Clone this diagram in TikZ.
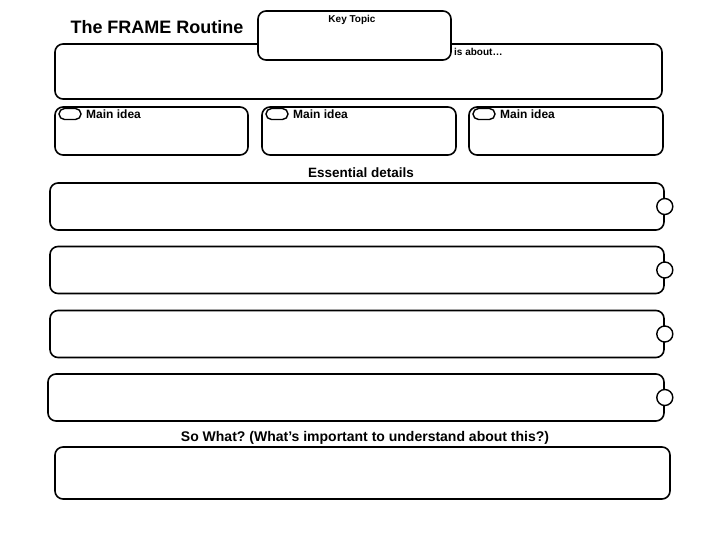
\documentclass[tikz,border=0pt]{standalone}
\usepackage{fontspec}
\setmainfont{Liberation Sans}
\usepackage{tikz}
\frenchspacing

\begin{document}
\begin{tikzpicture}[x=1pt, y=-1pt,
    box/.style={rectangle, rounded corners=8pt, draw, line width=1.6pt, fill=white, inner sep=0pt},
    oval/.style={rectangle, rounded corners=5.5pt, draw, line width=1.4pt, fill=white, minimum width=22pt, minimum height=11pt, inner sep=0pt},
    knob/.style={circle, draw, line width=1.4pt, fill=white, minimum size=16pt, inner sep=0pt},
    label/.style={font=\bfseries\fontsize{12}{14}\selectfont, inner sep=0pt}]
    \useasboundingbox (0,0) rectangle (728,546);
    \node (title) at (157,27) [font=\bfseries\fontsize{18}{21}\selectfont, inner sep=0pt] {The FRAME Routine};
    \node (about) at (358.5,71.5) [box, minimum width=607pt, minimum height=55pt] {};
    \node (key) at (354.5,35.5) [box, minimum width=193pt, minimum height=49pt] {};
    \node (keylabel) at (352,19.5) [label, font=\bfseries\fontsize{10}{12}\selectfont] {Key Topic};
    \node (aboutlabel) at (454,51.5) [label, anchor=west, font=\bfseries\fontsize{10}{12}\selectfont] {is about\ldots};
    \node (idea1) at (151.5,131) [box, minimum width=193pt, minimum height=48pt] {};
    \node (idea2) at (359,131) [box, minimum width=194pt, minimum height=48pt] {};
    \node (idea3) at (566,131) [box, minimum width=194pt, minimum height=48pt] {};
    \node (oval1) at (70,114) [oval] {};
    \node (oval2) at (277,114) [oval] {};
    \node (oval3) at (484,114) [oval] {};
    \node (idealabel1) at (86,114) [label, anchor=west] {Main idea};
    \node (idealabel2) at (293,114) [label, anchor=west] {Main idea};
    \node (idealabel3) at (500,114) [label, anchor=west] {Main idea};
    \node (details) at (361,173) [label, font=\bfseries\fontsize{13.5}{16}\selectfont] {Essential details};
    \node (detail1) at (357,206.5) [box, minimum width=614pt, minimum height=47pt] {};
    \node (detail2) at (357,270) [box, minimum width=614pt, minimum height=47pt] {};
    \node (detail3) at (357,334) [box, minimum width=614pt, minimum height=47pt] {};
    \node (detail4) at (356,397.5) [box, minimum width=616pt, minimum height=47pt] {};
    \node (knob1) at (detail1.east) [knob] {};
    \node (knob2) at (detail2.east) [knob] {};
    \node (knob3) at (detail3.east) [knob] {};
    \node (knob4) at (detail4.east) [knob] {};
    \node (sowhat) at (365,438) [label, font=\bfseries\fontsize{14}{17}\selectfont] {So What? (What’s important to understand about this?)};
    \node (sowhatbox) at (362.5,473) [box, minimum width=615pt, minimum height=52pt] {};
\end{tikzpicture}
\end{document}
